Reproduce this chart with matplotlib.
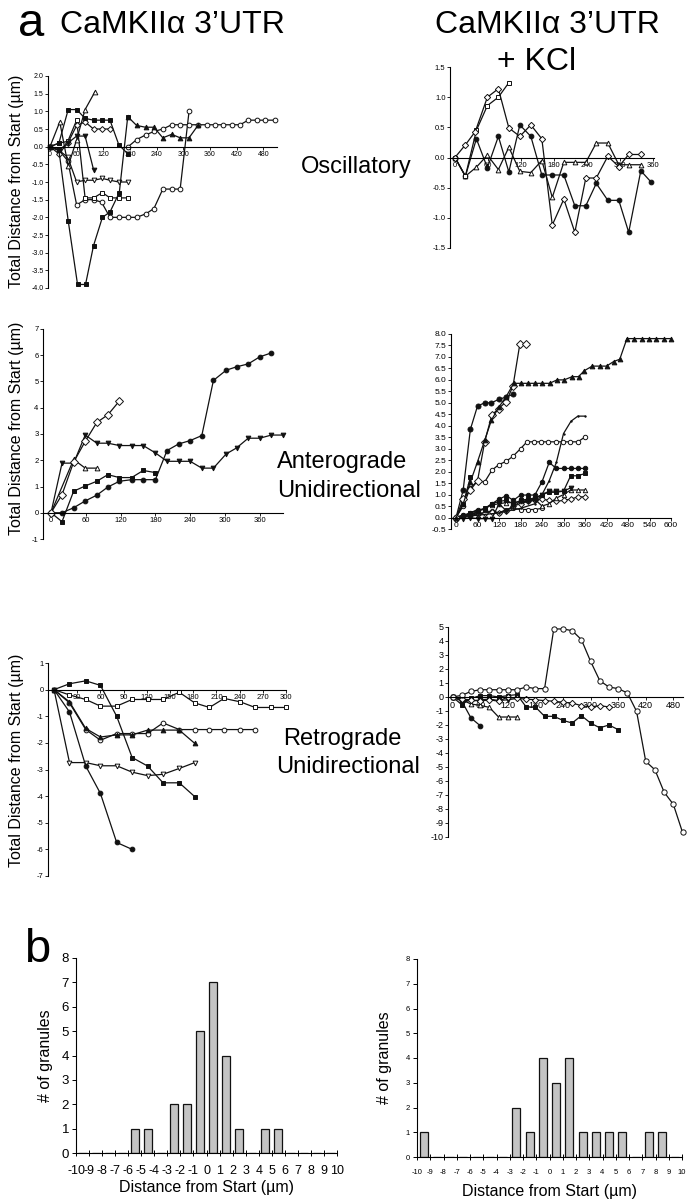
import matplotlib
matplotlib.use("Agg")
import matplotlib.pyplot as plt

plt.rcParams['font.family'] = ['Liberation Sans', 'DejaVu Sans']
plt.rcParams['axes.unicode_minus'] = False

# ---- a: oscillatory, CaMKIIa 3'UTR (time s, distance um)
osc_sq_t = [0, 20, 41, 62, 80, 98, 118, 135, 156, 175]
osc_sq_d = [0, -0.1, -2.1, -3.9, -3.9, -2.8, -2.0, -1.85, -1.3, 0.85]
osc_tri_t = [175, 195, 215, 234, 254, 274, 293, 313, 333]
osc_tri_d = [0.85, 0.6, 0.55, 0.55, 0.25, 0.35, 0.25, 0.25, 0.6]
osc_circ_t = [0, 20, 40, 60, 79, 98, 116, 135, 155, 175, 195, 216, 234, 254, 274, 293, 313]
osc_circ_d = [0, -0.1, -0.4, -1.65, -1.5, -1.5, -1.57, -2.0, -2.0, -2.0, -2.0, -1.9, -1.75, -1.2, -1.2, -1.2, 1.0]
osc_circ2_t = [176, 195, 215, 234, 254, 274, 293, 313, 333, 353, 371, 390, 409, 428, 446, 465, 485, 506]
osc_circ2_d = [0, 0.2, 0.33, 0.43, 0.5, 0.62, 0.62, 0.62, 0.62, 0.62, 0.62, 0.62, 0.62, 0.62, 0.75, 0.75, 0.75, 0.75]
osc_otri_t = [0, 22, 41, 60, 79, 101]
osc_otri_d = [0, 0.7, -0.55, 0.2, 1.05, 1.55]
osc_vtri_t = [0, 20, 40, 60, 79, 98, 118, 135, 155, 175]
osc_vtri_d = [0, -0.1, -0.3, -1.0, -0.95, -0.95, -0.9, -0.95, -1.0, -1.0]
osc_osq_t = [0, 20, 40, 60, 79, 98, 118, 135, 155, 175]
osc_osq_d = [0, 0.1, 0.15, 0.75, -1.45, -1.45, -1.3, -1.45, -1.45, -1.45]
osc_dia_t = [0, 20, 40, 60, 79, 98, 116, 135]
osc_dia_d = [0, -0.2, 0.1, 0.6, 0.7, 0.5, 0.5, 0.5]
osc_sq2_t = [0, 20, 41, 60, 79, 98, 116, 135, 155, 175]
osc_sq2_d = [0, 0.1, 1.05, 1.05, 0.8, 0.75, 0.75, 0.75, 0.05, -0.2]
osc_vfill_t = [0, 20, 40, 60, 79, 98]
osc_vfill_d = [0, -0.1, 0.1, 0.3, 0.3, -0.65]

# ---- a: oscillatory, + KCl
oscK_dia_t = [0, 19, 37, 59, 79, 98, 118, 138, 158, 177, 198, 218, 238, 257, 278, 298, 316, 338]
oscK_dia_d = [0, 0.21, 0.43, 1.0, 1.14, 0.49, 0.35, 0.54, 0.31, -1.12, -0.69, -1.24, -0.34, -0.34, 0.02, -0.15, 0.05, 0.05]
oscK_sq_t = [0, 19, 39, 59, 79, 98]
oscK_sq_d = [0, -0.31, 0.45, 0.86, 1.0, 1.24]
oscK_circ_t = [0, 19, 39, 59, 79, 98, 118, 138, 158, 177, 198, 218, 238, 257, 278, 298, 316, 338, 357]
oscK_circ_d = [0, -0.31, 0.31, -0.17, 0.35, -0.24, 0.54, 0.35, -0.29, -0.29, -0.29, -0.8, -0.8, -0.43, -0.71, -0.71, -1.24, -0.22, -0.41]
oscK_tri_t = [0, 19, 39, 59, 79, 98, 118, 138, 158, 177, 198, 218, 238, 257, 278, 298, 316, 338]
oscK_tri_d = [0, -0.31, -0.16, 0.04, -0.2, 0.17, -0.23, -0.25, -0.05, -0.66, -0.08, -0.08, -0.08, 0.24, 0.24, -0.12, -0.12, -0.12]

# ---- a: anterograde, CaMKIIa 3'UTR
ant_dia_t = [0, 19, 39, 59, 79, 98, 118]
ant_dia_d = [0, 0.69, 1.93, 2.72, 3.44, 3.73, 4.26]
ant_tri_t = [0, 39, 59, 79]
ant_tri_d = [0, 2.03, 1.7, 1.7]
ant_vtri_t = [0, 19, 39, 59, 79, 98, 118, 139, 159, 180, 200, 220, 240, 260, 280, 302, 320, 340, 360, 380, 400]
ant_vtri_d = [0, 1.89, 1.89, 2.96, 2.65, 2.65, 2.56, 2.56, 2.56, 2.28, 1.96, 1.96, 1.96, 1.7, 1.7, 2.24, 2.47, 2.84, 2.84, 2.96, 2.96]
ant_circ_t = [0, 19, 39, 59, 79, 98, 118, 139, 159, 180, 200, 220, 240, 260, 280, 302, 320, 340, 360, 380]
ant_circ_d = [0, 0.0, 0.19, 0.45, 0.67, 0.98, 1.2, 1.26, 1.26, 1.26, 2.37, 2.62, 2.75, 2.94, 5.04, 5.43, 5.56, 5.67, 5.94, 6.09]
ant_sq_t = [0, 19, 39, 59, 79, 98, 118, 139, 159, 180]
ant_sq_d = [0, -0.34, 0.82, 1.02, 1.2, 1.45, 1.34, 1.34, 1.61, 1.53]

# ---- a: anterograde, + KCl
t19 = [0, 20, 40, 60, 80, 100, 120, 140, 160, 180, 200, 220, 240, 260, 280, 300, 320, 340, 360]
antK_tri_t = [0, 20, 40, 60, 80, 99, 119, 140, 161, 180, 200, 220, 240, 261, 282, 302, 324, 342, 358,
              380, 401, 420, 440, 457, 477, 498, 519, 538, 559, 580, 600]
antK_tri_d = [0, 0.6, 1.55, 2.43, 3.37, 4.25, 4.8, 5.27, 5.85, 5.85, 5.85, 5.85, 5.85, 5.85, 6.0, 6.0, 6.14, 6.14, 6.4,
              6.6, 6.6, 6.6, 6.8, 6.9, 7.8, 7.8, 7.8, 7.8, 7.8, 7.8, 7.8]
antK_dia_t = [0, 20, 40, 60, 80, 100, 119, 140, 159, 178, 196]
antK_dia_d = [0, 0.8, 1.2, 1.6, 3.3, 4.47, 4.75, 5.05, 5.73, 7.55, 7.55]
antK_circ_t = [0, 20, 40, 60, 80, 99, 119, 140, 159]
antK_circ_d = [0, 1.2, 3.84, 4.86, 5.0, 5.0, 5.15, 5.25, 5.37]
antK_sq_t = [0, 20, 40]
antK_sq_d = [0, 0.6, 1.75]
antK_ocirc_t = [0, 20, 40, 60, 80, 100, 119, 140, 159, 180, 198, 218, 238, 258, 278, 298, 318, 340, 359]
antK_ocirc_d = [0, 0.5, 1.3, 1.58, 1.55, 2.06, 2.3, 2.45, 2.67, 3.0, 3.3, 3.3, 3.3, 3.3, 3.3, 3.3, 3.3, 3.3, 3.5]
antK_line_t = [0, 60, 120, 180, 220, 240, 260, 280, 300, 321, 340, 359]
antK_line_d = [0, 0.1, 0.2, 0.4, 0.6, 1.0, 1.6, 2.4, 3.66, 4.2, 4.42, 4.42]
antK_fc2_d = [0, 0.1, 0.2, 0.35, 0.35, 0.6, 0.8, 0.95, 0.75, 0.98, 0.98, 0.98, 1.56, 2.4, 2.14, 2.14, 2.14, 2.14, 2.14]
antK_fsq_d = [0, 0.05, 0.2, 0.3, 0.4, 0.6, 0.7, 0.75, 0.6, 0.75, 0.8, 0.85, 1.0, 1.1, 1.1, 1.15, 1.82, 1.82, 1.92]
antK_vtri_t = [0, 20, 40, 60, 80, 100, 120, 140, 160, 180, 200, 220, 240, 260, 280, 300, 321]
antK_vtri_d = [0, -0.05, 0.0, -0.05, -0.05, -0.05, 0.6, 0.3, 0.5, 0.7, 0.7, 0.8, 1.0, 1.15, 1.15, 1.15, 1.3]
antK_otri_d = [0, 0.1, 0.15, 0.25, 0.4, 0.55, 0.6, 0.65, 0.65, 0.7, 0.75, 0.8, 0.5, 0.6, 0.85, 1.0, 1.2, 1.2, 1.2]
antK_odia_d = [0, 0.05, 0.1, 0.15, 0.2, 0.25, 0.2, 0.3, 0.5, 0.6, 0.7, 0.75, 0.8, 0.75, 0.7, 0.75, 0.8, 0.9, 0.9]
antK_oc2_t = [0, 20, 40, 60, 80, 100, 120, 140, 160, 180, 200, 220, 240]
antK_oc2_d = [0, 0.1, 0.15, 0.2, 0.2, 0.3, 0.2, 0.35, 0.4, 0.35, 0.35, 0.35, 0.4]

# ---- a: retrograde, CaMKIIa 3'UTR
ret_sq_t = [0, 20, 41, 60, 81, 101, 121, 141, 162, 182]
ret_sq_d = [0, 0.22, 0.33, 0.16, -1.0, -2.55, -2.87, -3.5, -3.5, -4.02]
ret_circ_t = [0, 20, 41, 60, 81, 101]
ret_circ_d = [0, -0.84, -2.87, -3.9, -5.74, -6.0]
ret_osq_t = [0, 20, 41, 60, 81, 101, 121, 141, 162, 182, 201, 220, 241, 260, 281, 300]
ret_osq_d = [0, -0.2, -0.37, -0.62, -0.62, -0.37, -0.37, -0.37, -0.1, -0.5, -0.67, -0.33, -0.46, -0.67, -0.67, -0.67]
ret_ocirc_t = [0, 20, 41, 60, 81, 101, 121, 141, 162, 182, 201, 220, 241, 260]
ret_ocirc_d = [0, -0.5, -1.5, -1.9, -1.65, -1.65, -1.65, -1.25, -1.5, -1.5, -1.5, -1.5, -1.5, -1.5]
ret_tri_t = [0, 20, 41, 60, 81, 101, 121, 141, 162, 182]
ret_tri_d = [0, -0.46, -1.46, -1.78, -1.7, -1.7, -1.52, -1.52, -1.52, -2.02]
ret_vtri_t = [0, 20, 41, 60, 81, 101, 121, 141, 162, 182]
ret_vtri_d = [0, -2.74, -2.74, -2.86, -2.86, -3.1, -3.23, -3.18, -2.96, -2.74]

# ---- a: retrograde, + KCl
retK_circ_t = [0, 20, 40, 60, 80, 100, 120, 140, 160, 180, 200, 220, 240, 260, 280, 300, 320, 340, 360,
               380, 400, 420, 440, 460, 480, 500]
retK_circ_d = [0, 0.12, 0.4, 0.52, 0.52, 0.52, 0.52, 0.52, 0.71, 0.6, 0.6, 4.86, 4.86, 4.74, 4.1, 2.55, 1.17, 0.71, 0.6,
               0.29, -1.02, -4.6, -5.2, -6.8, -7.67, -9.67]
retK_dia_t = [0, 20, 40, 60, 80, 100, 120, 140, 160, 180, 200, 220, 240, 260, 280, 300, 320, 340]
retK_dia_d = [0, -0.15, -0.2, -0.3, -0.2, -0.3, 0.0, -0.1, -0.15, -0.2, -0.26, -0.3, -0.38, -0.43, -0.62, -0.71, -0.62, -0.71]
retK_sq_d = [0, -0.55, -0.1, 0.1, 0.1, 0.0, 0.1, 0.17, -0.71, -0.71, -1.38, -1.38, -1.67, -1.86, -1.33, -1.86, -2.2, -2.0, -2.33]
retK_fc_t = [0, 20, 40, 60]
retK_fc_d = [0, -0.3, -1.5, -2.05]
retK_tri_t = [0, 20, 40, 60, 80, 100, 120, 140]
retK_tri_d = [0, -0.2, -0.5, -0.6, -0.74, -1.43, -1.43, -1.43]
retK_vtri_d = [0, -0.2, -0.3, -0.2, -0.15, -0.25, -0.2, -0.1]

# ---- b: histograms of distance from start
bins = [-9.5, -8.5, -7.5, -6.5, -5.5, -4.5, -3.5, -2.5, -1.5, -0.5, 0.5, 1.5, 2.5, 3.5, 4.5, 5.5, 6.5, 7.5, 8.5, 9.5]
count_ctl = [0, 0, 0, 0, 1, 1, 0, 2, 2, 5, 7, 4, 1, 0, 1, 1, 0, 0, 0, 0]
count_kcl = [1, 0, 0, 0, 0, 0, 0, 2, 1, 4, 3, 4, 1, 1, 1, 1, 0, 1, 1, 0]

W, H = 692, 1199
fig = plt.figure(figsize=(W / 100, H / 100), dpi=100)


def px_axes(l, t, r, b):
    return fig.add_axes([l / W, 1 - b / H, (r - l) / W, (b - t) / H])


def ftext(x, y, s, **kw):
    fig.text(x / W, 1 - y / H, s, **kw)


def line_panel(ax, xlim, ylim, yt, fmt, xt, fs=5.5):
    ax.set_xlim(*xlim)
    ax.set_ylim(*ylim)
    for s in ['top', 'right']:
        ax.spines[s].set_visible(False)
    ax.spines['bottom'].set_position(('data', 0))
    ax.spines['bottom'].set_linewidth(0.8)
    ax.spines['left'].set_linewidth(0.8)
    ax.set_yticks(yt)
    ax.set_yticklabels([fmt.format(v) for v in yt])
    ax.set_xticks(xt)
    ax.set_xticklabels([str(v) for v in xt])
    ax.tick_params(axis='both', labelsize=fs, length=2, width=0.6, pad=1.2, direction='out')
    ax.patch.set_alpha(0)


def trace(ax, t, d, mk, filled, ms=3.4):
    ax.plot(t, d, color='#111111', lw=0.9, marker=mk, ms=ms,
            mfc='#111111' if filled else 'white', mec='#111111', mew=0.7, clip_on=False)


# oscillatory, control
ax = px_axes(48, 76, 277, 288)
line_panel(ax, (-4.5, 511), (-4, 2), [2.0 - 0.5 * i for i in range(13)], "{:.1f}", list(range(0, 481, 60)), fs=5)
trace(ax, osc_circ_t, osc_circ_d, 'o', False)
trace(ax, osc_circ2_t, osc_circ2_d, 'o', False)
trace(ax, osc_vtri_t, osc_vtri_d, 'v', False)
trace(ax, osc_osq_t, osc_osq_d, 's', False)
trace(ax, osc_dia_t, osc_dia_d, 'D', False, 3)
trace(ax, osc_otri_t, osc_otri_d, '^', False)
trace(ax, osc_sq2_t, osc_sq2_d, 's', True)
trace(ax, osc_vfill_t, osc_vfill_d, 'v', True)
trace(ax, osc_tri_t, osc_tri_d, '^', True)
trace(ax, osc_sq_t, osc_sq_d, 's', True)

# oscillatory, KCl
ax = px_axes(450, 67, 654, 248)
line_panel(ax, (-9, 362), (-1.5, 1.5), [1.5, 1.0, 0.5, 0.0, -0.5, -1.0, -1.5], "{:.1f}", list(range(0, 361, 60)))
trace(ax, oscK_tri_t, oscK_tri_d, '^', False)
trace(ax, oscK_circ_t, oscK_circ_d, 'o', True)
trace(ax, oscK_sq_t, oscK_sq_d, 's', False)
trace(ax, oscK_dia_t, oscK_dia_d, 'D', False, 3.2)

# anterograde, control
ax = px_axes(43, 329, 283, 539)
line_panel(ax, (-13.8, 400), (-1, 7), list(range(7, -2, -1)), "{:d}", list(range(0, 361, 60)))
trace(ax, ant_sq_t, ant_sq_d, 's', True)
trace(ax, ant_circ_t, ant_circ_d, 'o', True)
trace(ax, ant_vtri_t, ant_vtri_d, 'v', True)
trace(ax, ant_tri_t, ant_tri_d, '^', False)
trace(ax, ant_dia_t, ant_dia_d, 'D', False, 3.6)

# anterograde, KCl
ax = px_axes(451, 334, 671, 529)
line_panel(ax, (-14, 600), (-0.5, 8), [8.0 - 0.5 * i for i in range(18)], "{:.1f}", list(range(0, 601, 60)), fs=6)
trace(ax, antK_oc2_t, antK_oc2_d, 'o', False, 3)
trace(ax, t19, antK_odia_d, 'D', False, 3)
trace(ax, t19, antK_otri_d, '^', False, 3.2)
trace(ax, antK_vtri_t, antK_vtri_d, 'v', True, 3.4)
trace(ax, t19, antK_fsq_d, 's', True, 3)
trace(ax, t19, antK_fc2_d, 'o', True, 3.2)
trace(ax, antK_line_t, antK_line_d, '.', True, 2)
trace(ax, antK_ocirc_t, antK_ocirc_d, 'o', False, 3.2)
trace(ax, antK_sq_t, antK_sq_d, 's', True, 3.4)
trace(ax, antK_circ_t, antK_circ_d, 'o', True, 3.6)
trace(ax, antK_dia_t, antK_dia_d, 'D', False, 3.6)
trace(ax, antK_tri_t, antK_tri_d, '^', True, 3.4)

# retrograde, control
ax = px_axes(48, 663, 286, 876)
line_panel(ax, (-7.8, 300), (-7, 1), list(range(1, -8, -1)), "{:d}", list(range(30, 301, 30)))
trace(ax, ret_osq_t, ret_osq_d, 's', False)
trace(ax, ret_ocirc_t, ret_ocirc_d, 'o', False)
trace(ax, ret_tri_t, ret_tri_d, '^', True)
trace(ax, ret_vtri_t, ret_vtri_d, 'v', False)
trace(ax, ret_sq_t, ret_sq_d, 's', True)
trace(ax, ret_circ_t, ret_circ_d, 'o', True)

# retrograde, KCl
ax = px_axes(448, 627, 683, 837)
line_panel(ax, (-10, 501), (-10, 5), list(range(5, -11, -1)), "{:d}", list(range(0, 481, 60)), fs=6.5)
trace(ax, retK_tri_t, retK_vtri_d, 'v', True)
trace(ax, retK_tri_t, retK_tri_d, '^', False)
trace(ax, retK_fc_t, retK_fc_d, 'o', True)
trace(ax, t19, retK_sq_d, 's', True)
trace(ax, retK_dia_t, retK_dia_d, 'D', False, 3.2)
trace(ax, retK_circ_t, retK_circ_d, 'o', False, 3.8)


def hist_panel(ax, counts, fs):
    ax.bar(bins, counts, width=0.62, color='#c4c4c4', edgecolor='#111111', linewidth=0.9)
    ax.set_xlim(-10, 10)
    ax.set_ylim(0, 8)
    for s in ['top', 'right']:
        ax.spines[s].set_visible(False)
    ax.set_xticks(range(-10, 11))
    ax.set_yticks(range(0, 9))
    ax.tick_params(axis='both', labelsize=fs, length=3, width=0.7, direction='out', pad=2)
    ax.tick_params(axis='x', direction='inout', length=5)
    ax.set_ylabel("# of granules", fontsize=11.5, labelpad=6)
    ax.set_xlabel("Distance from Start (\u00b5m)", fontsize=11.5, labelpad=2)


ax = px_axes(76, 958, 337, 1153)
hist_panel(ax, count_ctl, 9.5)
ax.tick_params(axis='x', labelsize=9, pad=6)
ax = px_axes(417, 959, 682, 1157)
hist_panel(ax, count_kcl, 5.5)
ax.tick_params(axis='x', pad=6)
ax.xaxis.labelpad = 6
ax.yaxis.labelpad = 10

# texts
ftext(18, 36, "a", fontsize=34, va='baseline')
ftext(60, 33, "CaMKII\u03b1 3\u2019UTR", fontsize=23, va='baseline')
ftext(435, 33, "CaMKII\u03b1 3\u2019UTR", fontsize=23, va='baseline')
ftext(497, 70, "+ KCl", fontsize=23, va='baseline')
ftext(301, 173, "Oscillatory", fontsize=17, va='baseline')
ftext(277, 468, "Anterograde", fontsize=17, va='baseline')
ftext(277, 497, "Unidirectional", fontsize=17, va='baseline')
ftext(283, 745, "Retrograde", fontsize=17, va='baseline')
ftext(276, 773, "Unidirectional", fontsize=17, va='baseline')
ftext(24, 962, "b", fontsize=34, va='baseline')
for yc in [181, 428, 760]:
    ftext(17, yc, "Total Distance from Start (\u00b5m)", fontsize=11.5, rotation=90, va='center', ha='center')

fig.savefig("out.png", dpi=100)
